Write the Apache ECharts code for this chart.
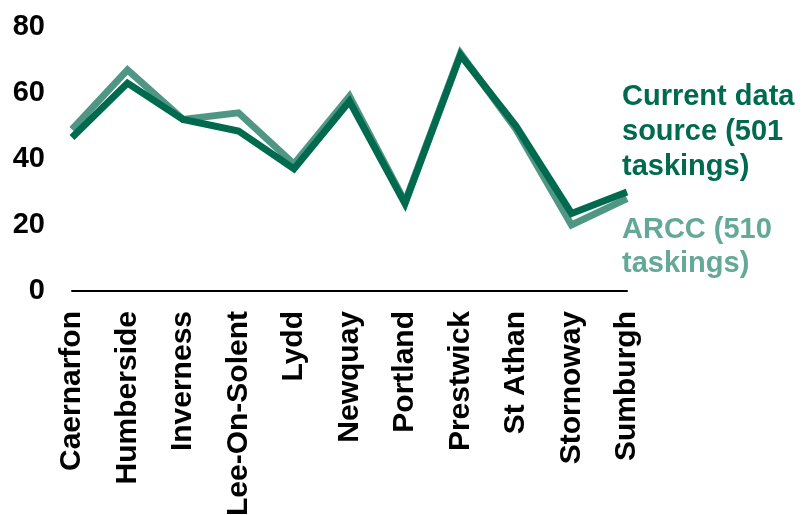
<!DOCTYPE html>
<html>
<head>
<meta charset="utf-8">
<script src="https://cdn.jsdelivr.net/npm/echarts@6/dist/echarts.min.js"></script>
<style>
html,body{margin:0;padding:0;background:#fff;}
#chart{width:806px;height:515px;}
</style>
</head>
<body>
<div id="chart"></div>
<script>
var categories = ['Caernarfon','Humberside','Inverness','Lee-On-Solent','Lydd','Newquay','Portland','Prestwick','St Athan','Stornoway','Sumburgh'];
var currentValues = [46.5, 63, 52, 48.5, 37, 57.5, 26.5, 71.5, 50, 23.5, 30];
var arccValues = [49, 67, 52, 54, 38.5, 59, 27, 72, 49, 20, 28];
var yTicks = [0, 20, 40, 60, 80];
var seriesNames = ['Current data source (501 taskings)', 'ARCC (510 taskings)'];

var darkGreen = '#006A4E';
var lightGreen = '#4F9784';
var lightText = '#64A997';
var font = 'Liberation Sans, Arial, sans-serif';

var chart = echarts.init(document.getElementById('chart'));
chart.setOption({
  animation: false,
  backgroundColor: '#ffffff',
  grid: {left: 72, right: 179, top: 27, bottom: 224, containLabel: false, outerBoundsMode: 'none'},
  xAxis: {
    type: 'category',
    data: categories,
    boundaryGap: false,
    axisLine: {show: true, lineStyle: {color: '#000', width: 2}},
    axisTick: {show: false},
    axisLabel: {
      rotate: 90, margin: 20, interval: 0,
      fontFamily: font, fontWeight: 'bold', fontSize: 30, color: '#000'
    },
    splitLine: {show: false}
  },
  yAxis: {
    type: 'value',
    min: yTicks[0], max: yTicks[yTicks.length - 1], interval: 20,
    axisLine: {show: false},
    axisTick: {show: false},
    splitLine: {show: false},
    axisLabel: {margin: 27, fontFamily: font, fontWeight: 'bold', fontSize: 29, color: '#000'}
  },
  series: [
    {
      name: seriesNames[1], type: 'line', data: arccValues,
      showSymbol: false, clip: true, z: 2,
      lineStyle: {color: lightGreen, width: 7, join: 'miter'}
    },
    {
      name: seriesNames[0], type: 'line', data: currentValues,
      showSymbol: false, clip: true, z: 3,
      lineStyle: {color: darkGreen, width: 7, join: 'miter'}
    }
  ],
  graphic: [
    {
      type: 'text', left: 622, top: 79,
      style: {text: 'Current data\nsource (501\ntaskings)', fill: darkGreen,
        font: 'bold 29px ' + font, lineHeight: 35}
    },
    {
      type: 'text', left: 622, top: 213,
      style: {text: 'ARCC (510\ntaskings)', fill: lightText,
        font: 'bold 29px ' + font, lineHeight: 34}
    }
  ]
});
</script>
</body>
</html>
